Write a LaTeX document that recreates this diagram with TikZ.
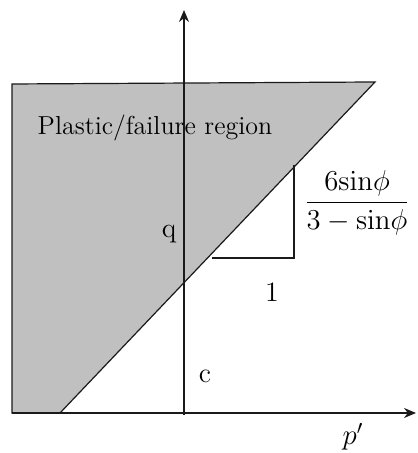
\documentclass[tikz,border=0pt]{standalone}
\usepackage{amsmath}
\usetikzlibrary{arrows.meta, positioning, calc}
\definecolor{cfill}{HTML}{C0C0C0}
\definecolor{cline}{HTML}{1A1A1A}
\tikzset{
  every picture/.style={line width=0.6pt},
  axis/.style={-{Stealth[length=6pt, width=5pt]}, draw=cline, line width=0.6pt},
  region/.style={draw=cline, fill=cfill, line width=0.6pt},
  slope/.style={draw=cline, line width=1.1pt},
  lbl/.style={font=\fontsize{14}{16}\selectfont, inner sep=1pt},
}

\begin{document}
\begin{tikzpicture}[x=0.5pt, y=0.5pt]
  \useasboundingbox (0,0) rectangle (417,453);
  % failure region
  \coordinate (tl) at (12,369);
  \coordinate (tr) at (375,371);
  \coordinate (bl) at (12,40);
  \coordinate (br) at (60,40);
  \draw[region] (bl) -- (tl) -- (tr) -- (br) -- cycle;
  % axes
  \coordinate (o) at (184,40);
  \coordinate (ylow) at (184,38);
  \coordinate (ytop) at (184,443);
  \coordinate (xend) at (416,40);
  \draw[axis] (ylow) -- (ytop);
  \draw[axis] (bl) -- (xend);
  % slope triangle
  \coordinate (s1) at (212,195);
  \coordinate (s2) at (294,195);
  \coordinate (s3) at (294,288);
  \draw[slope] (s1) -- (s2) -- (s3);
  % labels
  \node[lbl, font=\fontsize{13}{15}\selectfont] (reg) at (155,325) {Plastic/failure region};
  \node[lbl] (q) at (169,219) {q};
  \node[lbl] (c) at (205,77) {c};
  \node[lbl] (one) at (272,161) {1};
  \node[lbl, font=\fontsize{14.5}{16}\selectfont] (frac) at (357,250) {$\dfrac{6\mathrm{sin}\phi}{3-\mathrm{sin}\phi}$};
  \node[lbl] (p) at (353,16) {$p'$};
\end{tikzpicture}
\end{document}
